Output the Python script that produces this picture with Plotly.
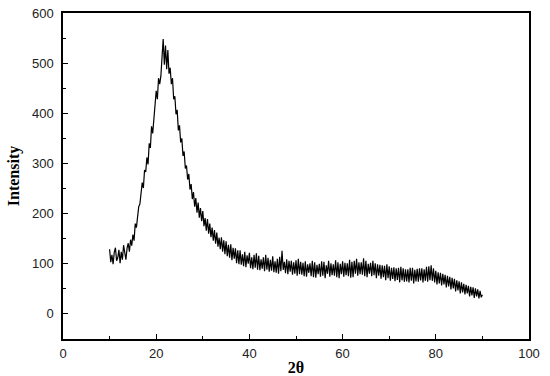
import plotly.graph_objects as go

x_start = 10.0
x_step = 0.25

intensity = [
    129, 103, 118, 99,
    123, 132, 106, 112,
    128, 101, 124, 108,
    137, 119, 108, 131,
    141, 124, 148, 136,
    158, 146, 180, 172,
    188, 214, 219, 247,
    262, 251, 287, 283,
    312, 298, 340, 331,
    374, 360, 395, 412,
    445, 428, 470, 458,
    474, 512, 548, 497,
    535, 488, 526, 479,
    491, 458, 470, 428,
    434, 398, 407, 366,
    376, 342, 350, 315,
    324, 290, 296, 268,
    279, 248, 259, 229,
    243, 214, 231, 202,
    222, 192, 211, 185,
    205, 175, 191, 166,
    189, 160, 180, 153,
    172, 146, 167, 140,
    162, 134, 152, 129,
    153, 124, 147, 119,
    145, 115, 138, 112,
    139, 107, 132, 110,
    131, 101, 127, 99,
    127, 98, 119, 95,
    124, 93, 117, 100,
    122, 91, 113, 89,
    118, 92, 121, 88,
    116, 87, 109, 90,
    113, 85, 118, 88,
    112, 84, 108, 86,
    115, 83, 105, 82,
    110, 80, 114, 85,
    126, 88, 104, 81,
    109, 79, 106, 84,
    106, 78, 103, 80,
    107, 76, 110, 79,
    104, 78, 102, 75,
    105, 74, 99, 82,
    101, 75, 106, 73,
    103, 72, 98, 79,
    100, 74, 105, 76,
    104, 71, 97, 80,
    106, 74, 101, 77,
    99, 76, 107, 73,
    103, 71, 100, 79,
    105, 74, 102, 77,
    101, 75, 108, 72,
    104, 73, 106, 80,
    110, 76, 103, 79,
    103, 78, 111, 75,
    106, 73, 100, 80,
    102, 75, 106, 77,
    101, 71, 99, 76,
    98, 70, 97, 73,
    96, 67, 99, 71,
    95, 66, 92, 70,
    93, 65, 91, 68,
    92, 63, 94, 67,
    91, 64, 89, 65,
    89, 63, 92, 66,
    92, 61, 88, 65,
    90, 64, 91, 67,
    91, 63, 89, 66,
    94, 64, 95, 67,
    97, 66, 91, 63,
    86, 59, 83, 61,
    82, 57, 80, 59,
    78, 53, 76, 55,
    74, 49, 72, 51,
    70, 45, 67, 47,
    65, 41, 63, 43,
    60, 39, 58, 41,
    56, 35, 54, 37,
    53, 32, 51, 35,
    49, 31, 46, 33,
    38,
]

two_theta = [x_start + i * x_step for i in range(len(intensity))]

x_ticks = [0, 20, 40, 60, 80, 100]
y_ticks = [0, 100, 200, 300, 400, 500, 600]

fig = go.Figure()
fig.add_trace(go.Scatter(
    x=two_theta, y=intensity, mode="lines",
    line=dict(color="black", width=1.2),
    showlegend=False,
))

axis_common = dict(
    showline=True, mirror=True, linecolor="black", linewidth=1.5,
    ticks="inside", ticklen=5, tickwidth=1.4, tickcolor="black",
    showgrid=False, zeroline=False, automargin=False,
    tickfont=dict(family="Liberation Sans, Arial", size=13, color="#222"),
)

fig.update_xaxes(
    range=[0, 100], tickvals=x_ticks, ticklabelstandoff=2,
    minor=dict(ticks="inside", dtick=10, ticklen=3, tickwidth=1.2, tickcolor="black"),
    title=dict(text="<b>2θ</b>", font=dict(family="Liberation Serif, Times New Roman", size=16, color="black"), standoff=2),
    **axis_common,
)
fig.update_yaxes(
    range=[-50, 600], tickvals=y_ticks, ticklabelstandoff=5,
    minor=dict(ticks="inside", dtick=50, ticklen=3, tickwidth=1.2, tickcolor="black"),
    title=dict(text="<b>Intensity</b>", font=dict(family="Liberation Serif, Times New Roman", size=16, color="black"), standoff=8),
    **axis_common,
)

fig.update_layout(
    width=550, height=376,
    margin=dict(l=63, r=21, t=13, b=37),
    plot_bgcolor="white", paper_bgcolor="white",
)

fig.write_html(
    "out.html",
    config={"displayModeBar": False},
    post_script="document.body.style.margin='0';document.body.style.overflow='hidden';",
)
